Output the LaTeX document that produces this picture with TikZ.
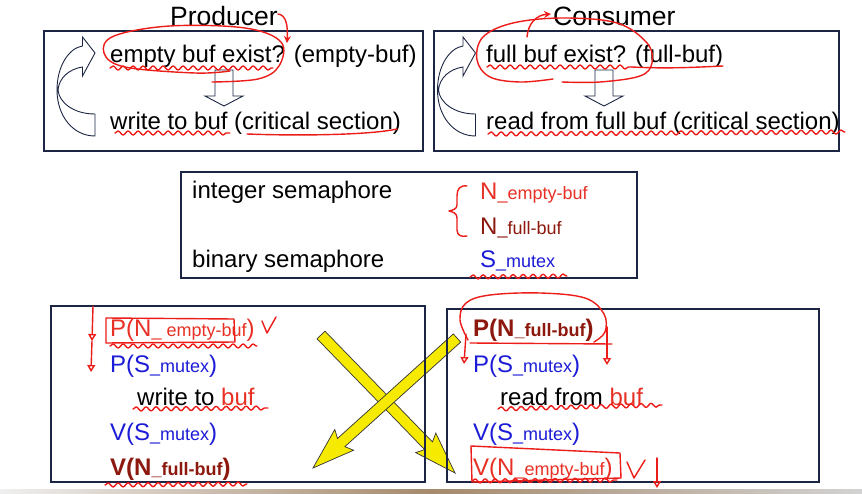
\documentclass[tikz,border=0pt]{standalone}
\usepackage{fontspec}
\setmainfont{Liberation Sans}
\usetikzlibrary{calc,decorations.pathmorphing,arrows.meta}

\definecolor{frame}{RGB}{28,38,68}
\definecolor{ink}{RGB}{236,28,24}
\definecolor{semred}{RGB}{232,48,36}
\definecolor{semdark}{RGB}{140,24,14}
\definecolor{semblue}{RGB}{28,28,215}
\definecolor{boltfill}{RGB}{246,234,0}
\definecolor{stripbrown}{RGB}{165,138,108}

% smaller trailing part of a semaphore name
\newcommand{\lowpart}[1]{{\fontsize{18}{20}\selectfont #1}}

% yellow block arrow from #1 (tail) to #2 (tip)
\newcommand{\boltarrow}[2]{%
  \coordinate (hb) at ($(#2)!38pt!(#1)$);
  \coordinate (hk) at ($(#2)!42pt!(#1)$);
  \path[bolt] ($(#1)!5.5pt!90:(#2)$) -- ($(hb)!5.5pt!-90:(#1)$) -- ($(hk)!14pt!-90:(#1)$)
    -- (#2) -- ($(hk)!14pt!90:(#1)$) -- ($(hb)!5.5pt!90:(#1)$) -- ($(#1)!5.5pt!-90:(#2)$) -- cycle;
}

\begin{document}
\begin{tikzpicture}[x=1pt,y=-1pt,
  panel/.style={draw=frame, line width=1.3pt, inner sep=0pt, outer sep=0pt, anchor=north west},
  txt/.style={anchor=base west, inner sep=0pt, font=\fontsize{24}{28}\selectfont},
  boldtxt/.style={txt, font=\fontsize{24}{28}\selectfont\bfseries},
  title/.style={anchor=base west, inner sep=0pt, font=\fontsize{26.5}{30}\selectfont},
  hollow/.style={draw=frame, line width=0.9pt, fill=white, line join=miter},
  bolt/.style={draw=black!80, line width=0.7pt, fill=boltfill, line join=miter},
  ink/.style={draw=ink, line width=1.4pt, line cap=round, line join=round},
  wave/.style={ink, decorate, decoration={snake, segment length=10pt, amplitude=2pt}},
  openhead/.style={-{Triangle[open, length=7pt, width=8pt]}},
  solidhead/.style={-{Stealth[length=7pt, width=7pt]}},
  downblock/.pic={\draw[hollow] (-9,0) -- (9,0) -- (9,26) -- (19,26) -- (0,36) -- (-19,26) -- (-9,26) -- cycle;},
  uturn/.pic={\draw[hollow] (0,46) .. controls (-22,46) and (-38,26) .. (-38,0)
      .. controls (-38,-24) and (-26,-42) .. (-12.5,-44) -- (-12.5,-53) -- (0,-37) -- (-12.5,-14)
      -- (-12.5,-23) .. controls (-26,-21) and (-36,-12) .. (-37,0)
      .. controls (-36,12) and (-22,24) .. (0,24) -- cycle;},
]

% page and bottom strip
\fill[white] (0,0) rectangle (862,494);
\useasboundingbox (0,0) rectangle (862,494);
\shade[left color=gray!12, right color=gray!35, middle color=stripbrown] (0,489) rectangle (862,494);

% crossing yellow arrows
\coordinate (boltAtail) at (321,335);
\coordinate (boltAtip) at (455,473);
\coordinate (boltBtail) at (457,338);
\coordinate (boltBtip) at (313,468);
\boltarrow{boltAtail}{boltAtip}
\boltarrow{boltBtail}{boltBtip}

% panels
\node[panel, minimum width=379pt, minimum height=120pt] (prodbox) at (44,31) {};
\node[panel, minimum width=405pt, minimum height=120pt] (consbox) at (434,31) {};
\node[panel, minimum width=456pt, minimum height=106pt] (sembox) at (181,172) {};
\node[panel, minimum width=374pt, minimum height=176pt] (pcode) at (51,306) {};
\node[panel, minimum width=372pt, minimum height=173pt] (ccode) at (447,309) {};

% titles
\node[title] (prodtitle) at (170,26) {Producer};
\node[title] (constitle) at (553,26) {Consumer};

% producer / consumer loops
\node[txt] (pcheck) at (110,63) {empty buf exist? (empty-buf)};
\node[txt] (pwrite) at (110,130) {write to buf (critical section)};
\node[txt] (ccheck) at (486,63) {full buf exist? (full-buf)};
\node[txt] (cread) at (486,130) {read from full buf (critical section)};
\pic at (224,70) {downblock};
\pic at (604,70) {downblock};
\pic at (95,90) {uturn};
\pic at (475.5,90) {uturn};

% semaphore kinds
\node[txt] (intsem) at (192,199) {integer semaphore};
\node[txt] (binsem) at (192,268) {binary semaphore};
\node[txt, text=semred] (nempty) at (480,200) {N\lowpart{\_empty-buf}};
\node[txt, text=semdark] (nfull) at (480,235) {N\lowpart{\_full-buf}};
\node[txt, text=semblue] (smutex) at (480,268) {S\lowpart{\_mutex}};

% producer code
\node[txt, text=semred] (pp1) at (110,337) {P(N\lowpart{\_ empty-buf})};
\node[txt, text=semblue] (pp2) at (110,372) {P(S\lowpart{\_mutex})};
\node[txt] (pp3) at (137,405) {write to \textcolor{semred}{buf}};
\node[txt, text=semblue] (pp4) at (110,440) {V(S\lowpart{\_mutex})};
\node[boldtxt, text=semdark] (pp5) at (110,475) {V(N\lowpart{\_full-buf})};

% consumer code
\node[boldtxt, text=semdark] (cc1) at (473,337) {P(N\lowpart{\_full-buf})};
\node[txt, text=semblue] (cc2) at (473,372) {P(S\lowpart{\_mutex})};
\node[txt] (cc3) at (500,405) {read from \textcolor{semred}{buf}};
\node[txt, text=semblue] (cc4) at (473,440) {V(S\lowpart{\_mutex})};
\node[txt, text=semred] (cc5) at (473,475) {V(N\lowpart{\_empty-buf})};

% ---- red pen marks ----
% top panels
\draw[ink, solidhead] (278,14) .. controls (286,15) and (288,25) .. (287,43);
\draw[ink] plot[smooth, tension=0.6] coordinates {(230,71) (195,73) (125,67) (104,53) (114,36) (170,26) (245,28) (281,42) (279,66) (258,79) (212,82)};
\draw[wave] (110,68) -- (273,68);
\draw[wave] (115,133) -- (230,133);
\draw[ink] (247,134) .. controls (300,136) and (370,135) .. (397,129);

\draw[ink, solidhead] (527,37) .. controls (528,24) and (536,15) .. (551,14);
\draw[ink] plot[smooth, tension=0.6] coordinates {(553,79) (520,82) (490,77) (477,60) (483,37) (513,23) (563,18) (617,23) (647,43) (652,63) (640,76) (600,82) (562,82)};
\draw[wave] (487,67) -- (632,67);
\draw[ink] (632,67) .. controls (670,69) and (700,67) .. (723,66);
\draw[wave] (488,134) -- (845,132);

% semaphore panel
\draw[ink] (467,186) .. controls (460,185) and (457,189) .. (457,196) -- (457,205)
  .. controls (457,209) and (453,210) .. (449,211) .. controls (453,212) and (457,213) .. (457,218)
  -- (457,230) .. controls (457,236) and (462,237) .. (467,236);
\draw[wave] (470,277) -- (567,276);

% producer code
\draw[ink, openhead] (93,306) -- (92,341);
\draw[ink, openhead] (92,341) -- (91,372);
\draw[ink] (106,318) -- (234,319) -- (235,342) -- (106,343) -- cycle;
\draw[ink] (262,321) -- (267,333) -- (276,317);
\draw[wave] (110,346) -- (257,346);
\draw[wave] (133,409) -- (268,408);
\draw[wave] (105,485) -- (247,484);

% consumer code
\draw[ink] plot[smooth, tension=0.6] coordinates {(468,340) (460,320) (466,303) (490,295) (540,293) (585,298) (604,314) (605,332) (594,342)};
\draw[ink] (470,343) -- (612,344);
\draw[ink, openhead] (466,334) -- (464,364);
\draw[ink, openhead] (607,327) -- (607,365);
\draw[wave] (498,409) -- (662,405);
\draw[ink] (471,446) -- (620,453) -- (621,478) -- (472,482) -- cycle;
\draw[ink] (627,462) -- (634,478) -- (645,460);
\draw[ink, openhead] (657,458) -- (657,488);
\draw[wave] (472,481) -- (617,480);

\end{tikzpicture}
\end{document}
